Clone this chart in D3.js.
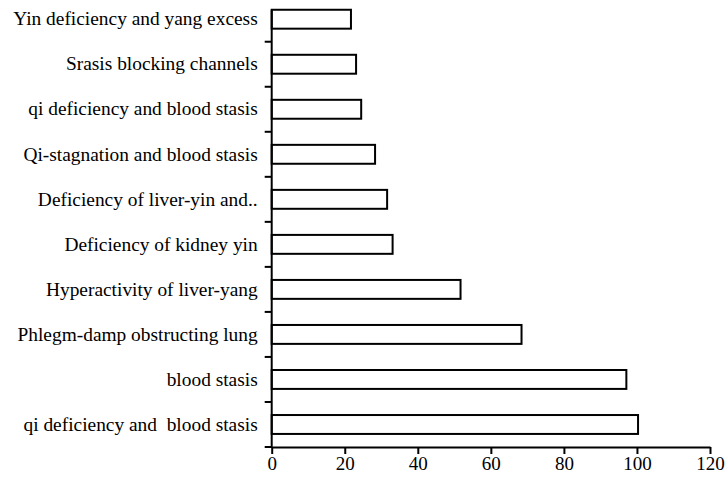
<!DOCTYPE html>
<html>
<head>
<meta charset="utf-8">
<script src="https://cdn.jsdelivr.net/npm/d3@7"></script>
<style>
  body { margin: 0; background: #fff; }
  svg text { font-family: "Liberation Serif", "Times New Roman", serif; }
</style>
</head>
<body>
<div id="chart"></div>
<script>
// categories top to bottom
var categories = [
    "Yin deficiency and yang excess",
    "Srasis blocking channels",
    "qi deficiency and blood stasis",
    "Qi-stagnation and blood stasis",
    "Deficiency of liver-yin and..",
    "Deficiency of kidney yin",
    "Hyperactivity of liver-yang",
    "Phlegm-damp obstructing lung",
    "blood stasis",
    "qi deficiency and  blood stasis"
];
var counts = [21.7, 23.1, 24.5, 28.3, 31.6, 33.1, 51.7, 68.4, 97.1, 100.3];
var xTicks = [0, 20, 40, 60, 80, 100, 120];

var data = categories.map((c, i) => ({name: c, value: counts[i]}));

var margin = {top: -3.3, left: 271.7, right: 17, bottom: 32};
var width = 727 - margin.left - margin.right;
var height = 479 - margin.top - margin.bottom;

var svg = d3.select("#chart")
    .append("svg")
    .attr("width", 727)
    .attr("height", 479)
  .append("g")
    .attr("transform", "translate(" + margin.left + "," + margin.top + ")");

var x = d3.scaleLinear()
    .domain([0, 120])
    .range([0, width]);

var y = d3.scaleBand()
    .domain(categories)
    .range([0, height])
    .paddingInner(0.58)
    .paddingOuter(0.29);

var step = y.step();
var bandTop = d => y(d) - y.paddingInner() * step / 2;

// bars
svg.selectAll("rect.bar")
    .data(data)
    .enter()
    .append("rect")
    .attr("class", "bar")
    .attr("x", x(0))
    .attr("y", d => y(d.name))
    .attr("width", d => x(d.value) - x(0))
    .attr("height", y.bandwidth())
    .attr("fill", "#fff")
    .attr("stroke", "#000")
    .attr("stroke-width", 2);

// y axis: labels from the band scale, ticks at band boundaries
var yAxis = d3.axisLeft(y).tickSize(0).tickPadding(14);
var yg = svg.append("g").attr("class", "y-axis").call(yAxis);
yg.select(".domain").remove();
yg.selectAll("text")
    .attr("font-size", 19.4)
    .attr("fill", "#000")
    .style("white-space", "pre");

svg.selectAll("line.ytick")
    .data(categories)
    .enter()
    .append("line")
    .attr("class", "ytick")
    .attr("x1", -7)
    .attr("x2", 0)
    .attr("y1", d => bandTop(d) + step)
    .attr("y2", d => bandTop(d) + step)
    .attr("stroke", "#000")
    .attr("stroke-width", 2);

svg.append("line")
    .attr("x1", 0)
    .attr("x2", 0)
    .attr("y1", y(categories[0]))
    .attr("y2", height + 1)
    .attr("stroke", "#000")
    .attr("stroke-width", 2);

// x axis
var xAxis = d3.axisBottom(x).tickValues(xTicks).tickSize(7).tickPadding(3).tickSizeOuter(0);
var xg = svg.append("g")
    .attr("class", "x-axis")
    .attr("transform", "translate(0," + height + ")")
    .call(xAxis);
xg.select(".domain").attr("stroke-width", 2);
xg.selectAll(".tick line").attr("stroke-width", 2);
xg.selectAll("text")
    .attr("font-size", 19)
    .attr("fill", "#000");
</script>
</body>
</html>
